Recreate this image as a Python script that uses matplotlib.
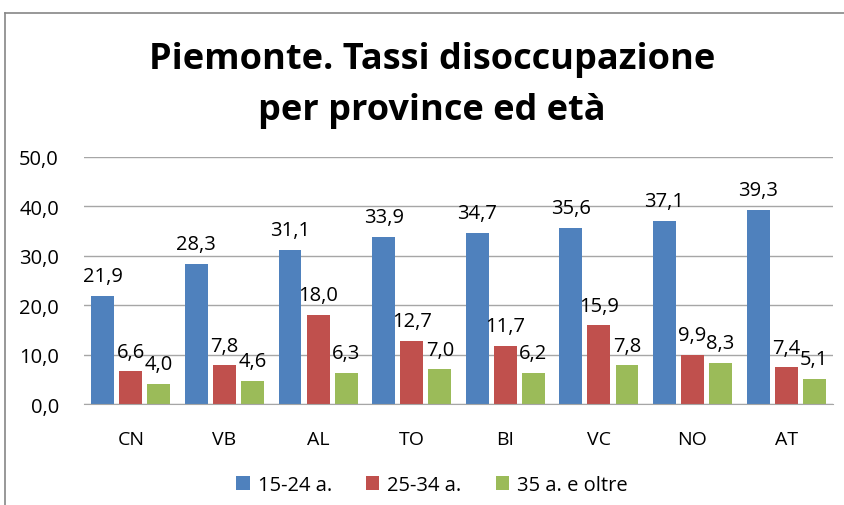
import matplotlib
matplotlib.use("Agg")
import matplotlib.pyplot as plt
import numpy as np
from matplotlib.lines import Line2D

categories = ["CN", "VB", "AL", "TO", "BI", "VC", "NO", "AT"]
s1524 = [21.9, 28.3, 31.1, 33.9, 34.7, 35.6, 37.1, 39.3]
s2534 = [6.6, 7.8, 18.0, 12.7, 11.7, 15.9, 9.9, 7.4]
s35 = [4.0, 4.6, 6.3, 7.0, 6.2, 7.8, 8.3, 5.1]
series_names = ["15-24 a.", "25-34 a.", "35 a. e oltre"]
yticks = [0, 10, 20, 30, 40, 50]

colors = ["#4F81BD", "#C0504D", "#9BBB59"]
font = ["Open Sans", "DejaVu Sans"]
plt.rcParams['font.family'] = font

W, H = 845, 506
fig = plt.figure(figsize=(W/100, H/100), dpi=100)

# chart frame (left and top edges)
fig.add_artist(Line2D([5/W, 5/W], [0, 1 - 14/H], transform=fig.transFigure, color="#868686", lw=1.2))
fig.add_artist(Line2D([5/W, 1], [1 - 14/H, 1 - 14/H], transform=fig.transFigure, color="#868686", lw=1.2))

ax_l, ax_r, ax_t, ax_b = 84, 833, 158, 405
ax = fig.add_axes([ax_l/W, 1 - ax_b/H, (ax_r-ax_l)/W, (ax_b-ax_t)/H])

x = np.arange(len(categories))
bw = 0.245
offs = [-0.3, 0.0, 0.3]
for vals, c, o, name in zip([s1524, s2534, s35], colors, offs, series_names):
    ax.bar(x + o, vals, width=bw, color=c, label=name, zorder=3)
    for xi, v in zip(x, vals):
        ax.text(xi + o, v + 2.0, f"{v:.1f}".replace(".", ","), ha="center", va="bottom",
                fontsize=14.5, color="black", zorder=4)

ax.set_xlim(-0.5, len(categories) - 0.5)
ax.set_ylim(0, 50)
ax.set_yticks(yticks)
ax.set_yticklabels([f"{v:.1f}".replace(".", ",") for v in yticks], fontsize=14.5)
ax.set_xticks(x)
ax.set_xticklabels(categories, fontsize=14)
ax.tick_params(axis="both", length=0)
ax.tick_params(axis="y", pad=18)
ax.tick_params(axis="x", pad=19)
ax.yaxis.grid(True, color="#A6A6A6", lw=1, zorder=0)
for sp in ["left", "right", "top"]:
    ax.spines[sp].set_visible(False)
ax.spines["bottom"].set_color("#A6A6A6")
ax.spines["bottom"].set_zorder(5)

fig.text(432/W, 1 - 60/H, "Piemonte. Tassi disoccupazione", ha="center", va="center",
         fontsize=26, fontweight="bold")
fig.text(432/W, 1 - 111/H, "per province ed età", ha="center", va="center",
         fontsize=26, fontweight="bold")

fig.legend(loc="center", bbox_to_anchor=(432/W, 1 - 486/H), ncol=3, frameon=False,
           fontsize=14.5, handlelength=0.65, handleheight=0.65, handletextpad=0.4, columnspacing=1.7)

fig.savefig("out.png", dpi=100)
